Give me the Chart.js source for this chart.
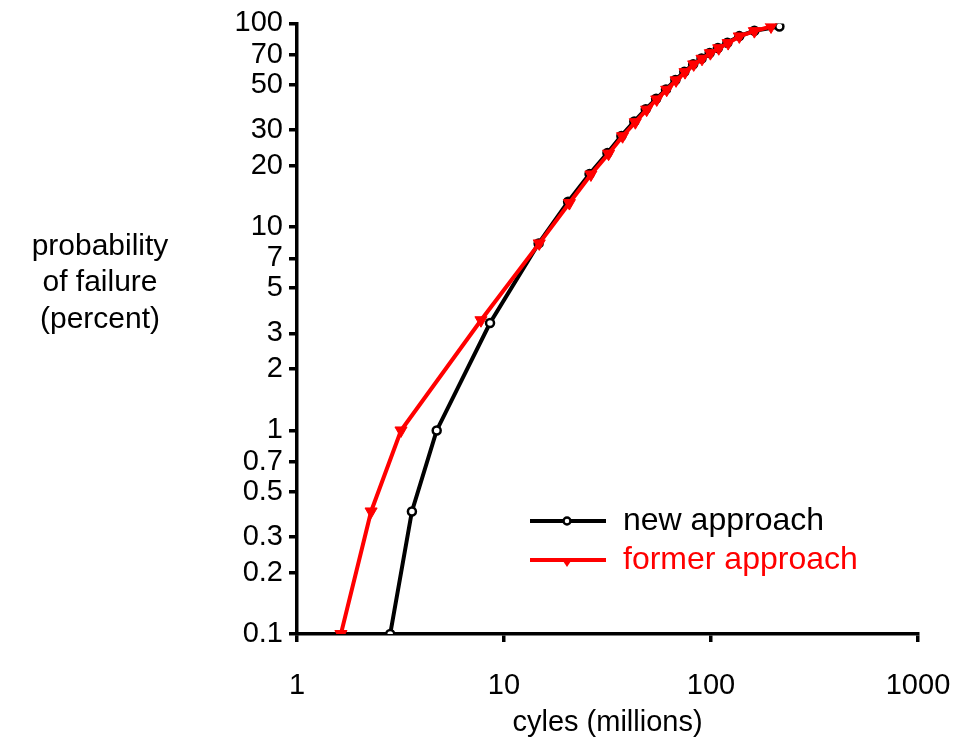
<!DOCTYPE html>
<html>
<head>
<meta charset="utf-8">
<script src="https://cdn.jsdelivr.net/npm/chart.js@4/dist/chart.umd.min.js"></script>
<style>
  html, body { margin: 0; padding: 0; background: #fff; }
  #wrap { width: 980px; height: 749px; }
</style>
</head>
<body>
<div id="wrap"><canvas id="failChart" width="980" height="749"></canvas></div>
<script>
// data
var newCycles = [2.82, 3.59, 4.73, 8.56, 14.7, 20.4, 25.9, 31.6, 36.9, 42.6, 48.4, 54.3, 60.6, 67.3, 74.3, 82, 90, 98.5, 108, 120, 137, 162, 214];
var newProb = [0.1, 0.4, 1.0, 3.37, 8.3, 13.3, 18.2, 23.1, 28.0, 33.0, 37.9, 42.6, 47.4, 52.7, 57.8, 63, 67.2, 71.6, 75.7, 80.3, 86.6, 92, 96.6];
var formerCycles = [1.63, 2.28, 3.18, 7.74, 14.8, 20.7, 26.3, 32.0, 37.4, 43.1, 48.9, 54.7, 61.1, 67.8, 74.9, 82.5, 90.5, 99.3, 109, 121, 137, 162, 195];
var formerProb = [0.1, 0.4, 1.0, 3.48, 8.3, 13.1, 18.1, 22.9, 27.9, 32.7, 37.7, 42.3, 47.2, 52.5, 57.6, 62.9, 67.0, 71.4, 75.5, 80.0, 86.3, 91.6, 96.6];

var xTicks = [1, 10, 100, 1000];
var yTicks = [0.1, 0.2, 0.3, 0.5, 0.7, 1, 2, 3, 5, 7, 10, 20, 30, 50, 70, 100];

var FONT = '"Liberation Sans", Arial, sans-serif';

function toPoints(xs, ys) {
    return xs.map(function (x, i) { return { x: x, y: ys[i] }; });
}

// horizontal y title and the line+marker legend
var extras = {
    id: 'extras',
    afterDraw: function (chart) {
        var ctx = chart.ctx;
        ctx.save();
        ctx.font = '30px ' + FONT;
        ctx.fillStyle = '#000';
        ctx.textAlign = 'center';
        ctx.textBaseline = 'middle';
        ctx.fillText('probability', 100, 247);
        ctx.fillText('of failure', 100, 283);
        ctx.fillText('(percent)', 100, 320);

        // legend
        ctx.font = '32px ' + FONT;
        var rows = [
            { y: 521, color: '#000', text: 'new approach', marker: 'circle' },
            { y: 560, color: '#ff0000', text: 'former approach', marker: 'tri' }
        ];
        rows.forEach(function (r) {
            ctx.strokeStyle = r.color;
            ctx.lineWidth = 4;
            ctx.beginPath();
            ctx.moveTo(530, r.y);
            ctx.lineTo(606, r.y);
            ctx.stroke();
            if (r.marker === 'circle') {
                ctx.fillStyle = '#fff';
                ctx.lineWidth = 2.5;
                ctx.beginPath();
                ctx.arc(567, r.y, 3.5, 0, Math.PI * 2);
                ctx.fill();
                ctx.stroke();
            } else {
                ctx.fillStyle = r.color;
                ctx.beginPath();
                ctx.moveTo(561, r.y - 2);
                ctx.lineTo(573, r.y - 2);
                ctx.lineTo(567, r.y + 7);
                ctx.closePath();
                ctx.fill();
            }
            ctx.fillStyle = r.color;
            ctx.textAlign = 'left';
            ctx.fillText(r.text, 623, r.y);
        });
        ctx.restore();
    }
};

document.addEventListener("DOMContentLoaded", function () {
    var myContext = document.getElementById("failChart").getContext('2d');

    new Chart(myContext, {
        type: 'line',
        data: {
            datasets: [{
                label: 'former approach',
                data: toPoints(formerCycles, formerProb),
                borderColor: '#ff0000',
                backgroundColor: '#ff0000',
                borderWidth: 4,
                pointStyle: 'triangle',
                pointRotation: 180,
                pointRadius: 7,
                pointBorderWidth: 1,
                order: 1
            }, {
                label: 'new approach',
                data: toPoints(newCycles, newProb),
                borderColor: '#000',
                backgroundColor: '#fff',
                borderWidth: 4,
                pointStyle: 'circle',
                pointRadius: 4,
                pointBorderWidth: 2.5,
                order: 2
            }]
        },
        options: {
            responsive: false,
            animation: false,
            layout: { padding: { top: 23, right: 62, left: 0, bottom: 0 } },
            plugins: {
                legend: { display: false },
                tooltip: { enabled: false }
            },
            scales: {
                x: {
                    type: 'logarithmic',
                    min: 1,
                    max: 1000,
                    afterBuildTicks: function (s) { s.ticks = xTicks.map(function (v) { return { value: v }; }); },
                    afterFit: function (s) { s.height = 115; },
                    ticks: {
                        color: '#000',
                        font: { family: FONT, size: 29 },
                        padding: 27,
                        maxRotation: 0,
                        callback: function (v) { return String(v); }
                    },
                    grid: { drawOnChartArea: false, drawTicks: true, tickLength: 8, color: '#000', lineWidth: 3.5 },
                    border: { display: true, color: '#000', width: 3.5 },
                    title: {
                        display: true,
                        text: 'cyles (millions)',
                        color: '#000',
                        font: { family: FONT, size: 29 },
                        padding: { top: 0, bottom: 9 }
                    }
                },
                y: {
                    type: 'logarithmic',
                    min: 0.1,
                    max: 100,
                    afterBuildTicks: function (s) { s.ticks = yTicks.map(function (v) { return { value: v }; }); },
                    afterFit: function (s) { s.width = 297; },
                    ticks: {
                        color: '#000',
                        font: { family: FONT, size: 29 },
                        padding: 6,
                        autoSkip: false,
                        callback: function (v) { return String(v); }
                    },
                    grid: { drawOnChartArea: false, drawTicks: true, tickLength: 8, color: '#000', lineWidth: 3.5 },
                    border: { display: true, color: '#000', width: 3.5 }
                }
            }
        },
        plugins: [extras]
    });
});
</script>
</body>
</html>
